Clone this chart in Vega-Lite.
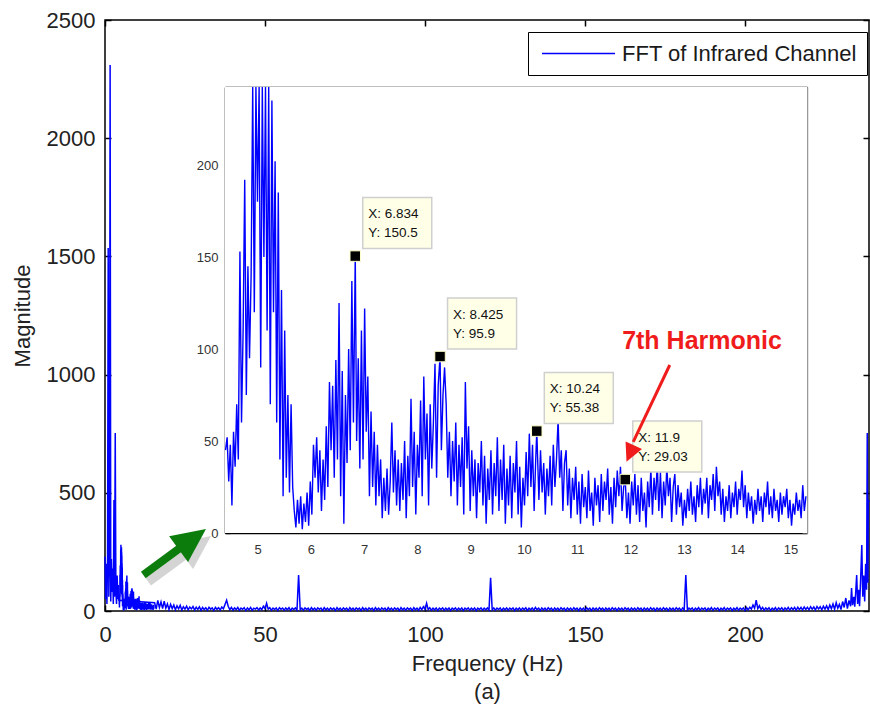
{
"$schema": "https://vega.github.io/schema/vega-lite/v6.json",
"width": 764, "height": 591,
"autosize": {"type": "none"},
"padding": {"left": 105, "top": 20, "right": 1, "bottom": 104},
"background": "white",
"config": {"font": "Liberation Sans", "view": {"stroke": "black", "strokeWidth": 1.5}, "axis": {"grid": false, "zindex": 1}},
"datasets": {
"main": [
{"f":0,"m":230},{"f":0.2,"m":50},{"f":0.4,"m":200},{"f":0.6,"m":30},{"f":0.8,"m":225},{"f":1.0,"m":1535},{"f":1.2,"m":60},{"f":1.4,"m":215},{"f":1.6,"m":2310},{"f":1.8,"m":40},{"f":2.0,"m":220},{"f":2.2,"m":80},{"f":2.4,"m":180},{"f":2.6,"m":30},{"f":2.8,"m":470},{"f":3.0,"m":60},{"f":3.2,"m":753},{"f":3.4,"m":90},{"f":3.6,"m":30},{"f":3.8,"m":150},{"f":4.0,"m":50},{"f":4.2,"m":110},{"f":4.35,"m":45},
{"f":15.5,"m":35},{"f":16,"m":8},{"f":16.5,"m":45},{"f":17,"m":15},{"f":17.5,"m":38},{"f":18,"m":10},{"f":18.5,"m":42},{"f":19,"m":12},{"f":19.5,"m":30},{"f":20,"m":6},
{"f":20.5,"m":28},{"f":21,"m":10},{"f":21.5,"m":25},{"f":22,"m":5},{"f":22.5,"m":22},{"f":23,"m":9},{"f":23.5,"m":24},{"f":24,"m":4},{"f":24.5,"m":18},{"f":25,"m":8},
{"f":25.5,"m":20},{"f":26,"m":5},{"f":26.5,"m":17},{"f":27,"m":9},{"f":27.5,"m":19},{"f":28,"m":4},{"f":28.5,"m":16},{"f":29,"m":7},{"f":29.5,"m":18},{"f":30,"m":3},
{"f":30.5,"m":15},{"f":31,"m":6},{"f":31.5,"m":14},{"f":32,"m":3},{"f":32.5,"m":16},{"f":33,"m":8},{"f":33.5,"m":13},{"f":34,"m":2},{"f":34.5,"m":15},{"f":35,"m":7},
{"f":35.5,"m":14},{"f":36,"m":4},{"f":36.5,"m":17},{"f":37,"m":9},{"f":37.5,"m":28},{"f":38,"m":46},{"f":38.5,"m":20},{"f":39,"m":6},{"f":39.5,"m":15},{"f":40,"m":4},
{"f":40.5,"m":13},{"f":41,"m":6},{"f":41.5,"m":15},{"f":42,"m":3},{"f":42.5,"m":12},{"f":43,"m":7},{"f":43.5,"m":14},{"f":44,"m":2},{"f":44.5,"m":13},{"f":45,"m":5},
{"f":45.5,"m":15},{"f":46,"m":3},{"f":46.5,"m":12},{"f":47,"m":8},{"f":47.5,"m":14},{"f":48,"m":4},{"f":48.5,"m":13},{"f":49,"m":6},{"f":49.5,"m":20},{"f":50,"m":10},
{"f":50.5,"m":33},{"f":51,"m":8},{"f":51.5,"m":14},{"f":52,"m":3},{"f":52.5,"m":12},{"f":53,"m":6},{"f":53.5,"m":13},{"f":54,"m":2},{"f":54.5,"m":14},{"f":55,"m":7},
{"f":55.5,"m":12},{"f":56,"m":3},{"f":56.5,"m":13},{"f":57,"m":5},{"f":57.5,"m":14},{"f":58,"m":2},{"f":58.5,"m":12},{"f":59,"m":6},{"f":59.5,"m":13},{"f":60,"m":4},
{"f":60.5,"m":152},{"f":61,"m":5},{"f":61.5,"m":12},{"f":62,"m":3},{"f":62.5,"m":13},{"f":63,"m":6},{"f":63.5,"m":12},{"f":64,"m":2},{"f":64.5,"m":14},{"f":65,"m":5},
{"f":65.5,"m":12},{"f":66,"m":3},{"f":66.5,"m":13},{"f":67,"m":7},{"f":67.5,"m":12},{"f":68,"m":2},{"f":68.5,"m":14},{"f":69,"m":5},{"f":69.5,"m":12},{"f":70,"m":3},
{"f":70.5,"m":13},{"f":71,"m":6},{"f":71.5,"m":12},{"f":72,"m":2},{"f":72.5,"m":14},{"f":73,"m":5},{"f":73.5,"m":12},{"f":74,"m":3},{"f":74.5,"m":13},{"f":75,"m":6},
{"f":75.5,"m":12},{"f":76,"m":2},{"f":76.5,"m":14},{"f":77,"m":5},{"f":77.5,"m":12},{"f":78,"m":3},{"f":78.5,"m":13},{"f":79,"m":6},{"f":79.5,"m":12},{"f":80,"m":2},
{"f":80.5,"m":14},{"f":81,"m":5},{"f":81.5,"m":12},{"f":82,"m":3},{"f":82.5,"m":13},{"f":83,"m":6},{"f":83.5,"m":12},{"f":84,"m":2},{"f":84.5,"m":14},{"f":85,"m":5},
{"f":85.5,"m":12},{"f":86,"m":3},{"f":86.5,"m":13},{"f":87,"m":6},{"f":87.5,"m":12},{"f":88,"m":2},{"f":88.5,"m":14},{"f":89,"m":5},{"f":89.5,"m":12},{"f":90,"m":3},
{"f":90.5,"m":13},{"f":91,"m":6},{"f":91.5,"m":12},{"f":92,"m":2},{"f":92.5,"m":14},{"f":93,"m":5},{"f":93.5,"m":12},{"f":94,"m":3},{"f":94.5,"m":13},{"f":95,"m":6},
{"f":95.5,"m":12},{"f":96,"m":2},{"f":96.5,"m":14},{"f":97,"m":5},{"f":97.5,"m":12},{"f":98,"m":3},{"f":98.5,"m":15},{"f":99,"m":6},{"f":99.5,"m":18},{"f":100,"m":8},
{"f":100.5,"m":33},{"f":101,"m":6},{"f":101.5,"m":14},{"f":102,"m":3},{"f":102.5,"m":12},{"f":103,"m":5},{"f":103.5,"m":13},{"f":104,"m":2},{"f":104.5,"m":12},{"f":105,"m":6},
{"f":105.5,"m":13},{"f":106,"m":3},{"f":106.5,"m":12},{"f":107,"m":5},{"f":107.5,"m":13},{"f":108,"m":2},{"f":108.5,"m":12},{"f":109,"m":6},{"f":109.5,"m":13},{"f":110,"m":3},
{"f":110.5,"m":12},{"f":111,"m":5},{"f":111.5,"m":13},{"f":112,"m":2},{"f":112.5,"m":12},{"f":113,"m":6},{"f":113.5,"m":13},{"f":114,"m":3},{"f":114.5,"m":12},{"f":115,"m":5},
{"f":115.5,"m":13},{"f":116,"m":2},{"f":116.5,"m":12},{"f":117,"m":6},{"f":117.5,"m":13},{"f":118,"m":3},{"f":118.5,"m":12},{"f":119,"m":5},{"f":119.5,"m":13},{"f":120,"m":4},
{"f":120.5,"m":140},{"f":121,"m":5},{"f":121.5,"m":13},{"f":122,"m":3},{"f":122.5,"m":12},{"f":123,"m":6},{"f":123.5,"m":13},{"f":124,"m":2},{"f":124.5,"m":12},{"f":125,"m":5},
{"f":125.5,"m":13},{"f":126,"m":3},{"f":126.5,"m":12},{"f":127,"m":6},{"f":127.5,"m":13},{"f":128,"m":2},{"f":128.5,"m":12},{"f":129,"m":5},{"f":129.5,"m":13},{"f":130,"m":3},
{"f":130.5,"m":12},{"f":131,"m":6},{"f":131.5,"m":14},{"f":132,"m":2},{"f":132.5,"m":12},{"f":133,"m":5},{"f":133.5,"m":13},{"f":134,"m":3},{"f":134.5,"m":15},{"f":135,"m":6},
{"f":135.5,"m":12},{"f":136,"m":2},{"f":136.5,"m":13},{"f":137,"m":5},{"f":137.5,"m":12},{"f":138,"m":3},{"f":138.5,"m":14},{"f":139,"m":6},{"f":139.5,"m":12},{"f":140,"m":2},
{"f":140.5,"m":13},{"f":141,"m":5},{"f":141.5,"m":12},{"f":142,"m":3},{"f":142.5,"m":14},{"f":143,"m":6},{"f":143.5,"m":12},{"f":144,"m":2},{"f":144.5,"m":13},{"f":145,"m":5},
{"f":145.5,"m":12},{"f":146,"m":3},{"f":146.5,"m":14},{"f":147,"m":6},{"f":147.5,"m":12},{"f":148,"m":2},{"f":148.5,"m":13},{"f":149,"m":5},{"f":149.5,"m":12},{"f":150,"m":3},
{"f":150.5,"m":14},{"f":151,"m":6},{"f":151.5,"m":12},{"f":152,"m":2},{"f":152.5,"m":13},{"f":153,"m":5},{"f":153.5,"m":12},{"f":154,"m":3},{"f":154.5,"m":14},{"f":155,"m":6},
{"f":155.5,"m":12},{"f":156,"m":2},{"f":156.5,"m":13},{"f":157,"m":5},{"f":157.5,"m":12},{"f":158,"m":3},{"f":158.5,"m":14},{"f":159,"m":6},{"f":159.5,"m":12},{"f":160,"m":2},
{"f":160.5,"m":13},{"f":161,"m":5},{"f":161.5,"m":12},{"f":162,"m":3},{"f":162.5,"m":14},{"f":163,"m":6},{"f":163.5,"m":12},{"f":164,"m":2},{"f":164.5,"m":13},{"f":165,"m":5},
{"f":165.5,"m":12},{"f":166,"m":3},{"f":166.5,"m":14},{"f":167,"m":6},{"f":167.5,"m":12},{"f":168,"m":2},{"f":168.5,"m":13},{"f":169,"m":5},{"f":169.5,"m":12},{"f":170,"m":3},
{"f":170.5,"m":14},{"f":171,"m":6},{"f":171.5,"m":12},{"f":172,"m":2},{"f":172.5,"m":13},{"f":173,"m":5},{"f":173.5,"m":12},{"f":174,"m":3},{"f":174.5,"m":14},{"f":175,"m":6},
{"f":175.5,"m":12},{"f":176,"m":2},{"f":176.5,"m":13},{"f":177,"m":5},{"f":177.5,"m":12},{"f":178,"m":3},{"f":178.5,"m":14},{"f":179,"m":6},{"f":179.5,"m":12},{"f":180,"m":2},
{"f":180.5,"m":13},{"f":181,"m":5},{"f":181.5,"m":152},{"f":182,"m":4},{"f":182.5,"m":12},{"f":183,"m":6},{"f":183.5,"m":13},{"f":184,"m":2},{"f":184.5,"m":12},{"f":185,"m":5},
{"f":185.5,"m":14},{"f":186,"m":3},{"f":186.5,"m":12},{"f":187,"m":6},{"f":187.5,"m":13},{"f":188,"m":2},{"f":188.5,"m":12},{"f":189,"m":5},{"f":189.5,"m":14},{"f":190,"m":3},
{"f":190.5,"m":12},{"f":191,"m":6},{"f":191.5,"m":13},{"f":192,"m":2},{"f":192.5,"m":12},{"f":193,"m":5},{"f":193.5,"m":14},{"f":194,"m":3},{"f":194.5,"m":12},{"f":195,"m":6},
{"f":195.5,"m":13},{"f":196,"m":2},{"f":196.5,"m":12},{"f":197,"m":5},{"f":197.5,"m":14},{"f":198,"m":3},{"f":198.5,"m":12},{"f":199,"m":6},{"f":199.5,"m":13},{"f":200,"m":2},
{"f":200.5,"m":14},{"f":201,"m":5},{"f":201.5,"m":16},{"f":202,"m":8},{"f":202.5,"m":25},{"f":203,"m":12},{"f":203.5,"m":46},{"f":204,"m":10},{"f":204.5,"m":22},{"f":205,"m":6},
{"f":205.5,"m":15},{"f":206,"m":3},{"f":206.5,"m":13},{"f":207,"m":6},{"f":207.5,"m":14},{"f":208,"m":2},{"f":208.5,"m":12},{"f":209,"m":5},{"f":209.5,"m":14},{"f":210,"m":3},
{"f":210.5,"m":13},{"f":211,"m":6},{"f":211.5,"m":14},{"f":212,"m":3},{"f":212.5,"m":13},{"f":213,"m":5},{"f":213.5,"m":15},{"f":214,"m":4},{"f":214.5,"m":14},{"f":215,"m":6},
{"f":215.5,"m":15},{"f":216,"m":3},{"f":216.5,"m":16},{"f":217,"m":6},{"f":217.5,"m":15},{"f":218,"m":4},{"f":218.5,"m":17},{"f":219,"m":7},{"f":219.5,"m":16},{"f":220,"m":5},
{"f":220.5,"m":18},{"f":221,"m":8},{"f":221.5,"m":17},{"f":222,"m":4},{"f":222.5,"m":19},{"f":223,"m":9},{"f":223.5,"m":18},{"f":224,"m":5},{"f":224.5,"m":20},{"f":225,"m":8},
{"f":225.5,"m":22},{"f":226,"m":6},{"f":226.5,"m":25},{"f":227,"m":10},{"f":227.5,"m":30},{"f":228,"m":8},{"f":228.5,"m":35},{"f":229,"m":12},{"f":229.5,"m":28},{"f":230,"m":6},
{"f":230.5,"m":40},{"f":231,"m":15},{"f":231.5,"m":55},{"f":232,"m":10},{"f":232.5,"m":45},{"f":233,"m":20},{"f":233.3,"m":97},{"f":233.6,"m":25},{"f":234,"m":60},{"f":234.3,"m":18},
{"f":234.6,"m":80},{"f":234.9,"m":152},{"f":235.2,"m":30},{"f":235.5,"m":90},{"f":235.8,"m":20},{"f":236.1,"m":120},{"f":236.5,"m":279},{"f":236.8,"m":60},{"f":237.1,"m":150},{"f":237.4,"m":40},
{"f":237.7,"m":200},{"f":238,"m":90},{"f":238.2,"m":753},{"f":238.4,"m":120},{"f":238.5,"m":470},{"f":238.75,"m":460}
],
"zoom": [
{"f":4.40,"m":45},{"f":4.43,"m":52},{"f":4.46,"m":28},{"f":4.49,"m":48},{"f":4.52,"m":15},{"f":4.55,"m":55},{"f":4.58,"m":36},{"f":4.61,"m":70},{"f":4.64,"m":40},{"f":4.67,"m":153},
{"f":4.70,"m":60},{"f":4.73,"m":110},{"f":4.76,"m":192},{"f":4.79,"m":75},{"f":4.82,"m":145},{"f":4.85,"m":95},{"f":4.88,"m":140},{"f":4.91,"m":260},{"f":4.94,"m":120},{"f":4.97,"m":280},
{"f":5.00,"m":180},{"f":5.03,"m":250},{"f":5.06,"m":90},{"f":5.09,"m":265},{"f":5.12,"m":150},{"f":5.15,"m":270},{"f":5.18,"m":110},{"f":5.21,"m":248},{"f":5.24,"m":70},{"f":5.27,"m":235},
{"f":5.30,"m":120},{"f":5.33,"m":202},{"f":5.36,"m":60},{"f":5.39,"m":185},{"f":5.42,"m":40},{"f":5.45,"m":132},{"f":5.48,"m":20},{"f":5.51,"m":110},{"f":5.54,"m":30},{"f":5.57,"m":75},
{"f":5.60,"m":22},{"f":5.63,"m":70},{"f":5.66,"m":25},{"f":5.69,"m":12},{"f":5.72,"m":3},{"f":5.75,"m":18},{"f":5.78,"m":5},{"f":5.81,"m":20},{"f":5.84,"m":2},{"f":5.87,"m":16},
{"f":5.90,"m":6},{"f":5.93,"m":22},{"f":5.96,"m":4},{"f":5.99,"m":28},{"f":6.02,"m":10},{"f":6.05,"m":48},{"f":6.08,"m":30},{"f":6.11,"m":52},{"f":6.14,"m":22},{"f":6.17,"m":45},
{"f":6.20,"m":12},{"f":6.23,"m":40},{"f":6.26,"m":18},{"f":6.29,"m":58},{"f":6.32,"m":25},{"f":6.35,"m":82},{"f":6.38,"m":45},{"f":6.41,"m":80},{"f":6.44,"m":30},{"f":6.47,"m":94},
{"f":6.50,"m":40},{"f":6.53,"m":125},{"f":6.56,"m":20},{"f":6.59,"m":88},{"f":6.62,"m":5},{"f":6.65,"m":75},{"f":6.68,"m":38},{"f":6.71,"m":100},{"f":6.74,"m":45},{"f":6.77,"m":137},
{"f":6.80,"m":60},{"f":6.834,"m":150.5},{"f":6.86,"m":50},{"f":6.89,"m":95},{"f":6.92,"m":35},{"f":6.95,"m":110},{"f":6.98,"m":40},{"f":7.01,"m":122},{"f":7.04,"m":55},{"f":7.07,"m":85},
{"f":7.10,"m":20},{"f":7.13,"m":66},{"f":7.16,"m":25},{"f":7.19,"m":55},{"f":7.22,"m":15},{"f":7.25,"m":48},{"f":7.28,"m":20},{"f":7.31,"m":40},{"f":7.34,"m":8},{"f":7.37,"m":30},
{"f":7.40,"m":12},{"f":7.43,"m":35},{"f":7.46,"m":10},{"f":7.49,"m":28},{"f":7.52,"m":60},{"f":7.55,"m":22},{"f":7.58,"m":45},{"f":7.61,"m":15},{"f":7.64,"m":40},{"f":7.67,"m":12},
{"f":7.70,"m":38},{"f":7.73,"m":18},{"f":7.76,"m":50},{"f":7.79,"m":8},{"f":7.82,"m":42},{"f":7.85,"m":20},{"f":7.88,"m":73},{"f":7.91,"m":25},{"f":7.94,"m":55},{"f":7.97,"m":10},
{"f":8.00,"m":48},{"f":8.03,"m":30},{"f":8.06,"m":72},{"f":8.09,"m":20},{"f":8.12,"m":85},{"f":8.15,"m":40},{"f":8.18,"m":65},{"f":8.21,"m":15},{"f":8.24,"m":70},{"f":8.27,"m":35},
{"f":8.30,"m":60},{"f":8.33,"m":92},{"f":8.36,"m":30},{"f":8.39,"m":80},{"f":8.425,"m":95.9},{"f":8.45,"m":45},{"f":8.48,"m":75},{"f":8.51,"m":90},{"f":8.54,"m":70},{"f":8.57,"m":30},
{"f":8.60,"m":55},{"f":8.63,"m":20},{"f":8.66,"m":50},{"f":8.69,"m":28},{"f":8.72,"m":60},{"f":8.75,"m":15},{"f":8.78,"m":48},{"f":8.81,"m":25},{"f":8.84,"m":52},{"f":8.87,"m":10},
{"f":8.90,"m":82},{"f":8.93,"m":35},{"f":8.96,"m":58},{"f":8.99,"m":12},{"f":9.02,"m":45},{"f":9.05,"m":20},{"f":9.08,"m":40},{"f":9.11,"m":8},{"f":9.14,"m":38},{"f":9.17,"m":22},
{"f":9.20,"m":50},{"f":9.23,"m":15},{"f":9.26,"m":42},{"f":9.29,"m":5},{"f":9.32,"m":35},{"f":9.35,"m":18},{"f":9.38,"m":45},{"f":9.41,"m":10},{"f":9.44,"m":38},{"f":9.47,"m":20},
{"f":9.50,"m":52},{"f":9.53,"m":12},{"f":9.56,"m":40},{"f":9.59,"m":18},{"f":9.62,"m":48},{"f":9.65,"m":5},{"f":9.68,"m":35},{"f":9.71,"m":15},{"f":9.74,"m":42},{"f":9.77,"m":8},
{"f":9.80,"m":38},{"f":9.83,"m":22},{"f":9.86,"m":50},{"f":9.89,"m":10},{"f":9.92,"m":36},{"f":9.95,"m":3},{"f":9.98,"m":30},{"f":10.01,"m":15},{"f":10.04,"m":44},{"f":10.07,"m":20},
{"f":10.10,"m":54},{"f":10.13,"m":25},{"f":10.16,"m":48},{"f":10.19,"m":12},{"f":10.22,"m":40},{"f":10.24,"m":55.38},{"f":10.28,"m":18},{"f":10.31,"m":45},{"f":10.34,"m":22},{"f":10.37,"m":38},
{"f":10.40,"m":10},{"f":10.43,"m":35},{"f":10.46,"m":20},{"f":10.49,"m":42},{"f":10.52,"m":15},{"f":10.55,"m":48},{"f":10.58,"m":25},{"f":10.61,"m":40},{"f":10.64,"m":62},{"f":10.67,"m":30},
{"f":10.70,"m":45},{"f":10.73,"m":12},{"f":10.76,"m":38},{"f":10.79,"m":45},{"f":10.82,"m":15},{"f":10.85,"m":35},{"f":10.88,"m":8},{"f":10.91,"m":30},{"f":10.94,"m":18},{"f":10.97,"m":36},
{"f":11.00,"m":10},{"f":11.03,"m":28},{"f":11.06,"m":5},{"f":11.09,"m":32},{"f":11.12,"m":14},{"f":11.15,"m":25},{"f":11.18,"m":8},{"f":11.21,"m":34},{"f":11.24,"m":12},{"f":11.27,"m":22},
{"f":11.30,"m":4},{"f":11.33,"m":30},{"f":11.36,"m":15},{"f":11.39,"m":26},{"f":11.42,"m":6},{"f":11.45,"m":32},{"f":11.48,"m":12},{"f":11.51,"m":28},{"f":11.54,"m":18},{"f":11.57,"m":35},
{"f":11.60,"m":10},{"f":11.63,"m":25},{"f":11.66,"m":5},{"f":11.69,"m":30},{"f":11.72,"m":14},{"f":11.75,"m":34},{"f":11.78,"m":20},{"f":11.81,"m":36},{"f":11.84,"m":12},{"f":11.87,"m":25},
{"f":11.90,"m":29.03},{"f":11.93,"m":8},{"f":11.96,"m":22},{"f":11.99,"m":5},{"f":12.02,"m":28},{"f":12.05,"m":15},{"f":12.08,"m":32},{"f":12.11,"m":10},{"f":12.14,"m":26},{"f":12.17,"m":6},
{"f":12.20,"m":30},{"f":12.23,"m":12},{"f":12.26,"m":22},{"f":12.29,"m":3},{"f":12.32,"m":28},{"f":12.35,"m":14},{"f":12.38,"m":35},{"f":12.41,"m":10},{"f":12.44,"m":30},{"f":12.47,"m":18},
{"f":12.50,"m":38},{"f":12.53,"m":12},{"f":12.56,"m":33},{"f":12.59,"m":8},{"f":12.62,"m":28},{"f":12.65,"m":15},{"f":12.68,"m":36},{"f":12.71,"m":20},{"f":12.74,"m":30},{"f":12.77,"m":6},
{"f":12.80,"m":25},{"f":12.83,"m":32},{"f":12.86,"m":10},{"f":12.89,"m":26},{"f":12.92,"m":14},{"f":12.95,"m":22},{"f":12.98,"m":4},{"f":13.01,"m":18},{"f":13.04,"m":8},{"f":13.07,"m":24},
{"f":13.10,"m":12},{"f":13.13,"m":28},{"f":13.16,"m":10},{"f":13.19,"m":20},{"f":13.22,"m":6},{"f":13.25,"m":26},{"f":13.28,"m":14},{"f":13.31,"m":30},{"f":13.34,"m":10},{"f":13.37,"m":24},
{"f":13.40,"m":16},{"f":13.43,"m":30},{"f":13.46,"m":8},{"f":13.49,"m":26},{"f":13.52,"m":18},{"f":13.55,"m":32},{"f":13.58,"m":12},{"f":13.61,"m":36},{"f":13.64,"m":20},{"f":13.67,"m":28},
{"f":13.70,"m":10},{"f":13.73,"m":24},{"f":13.76,"m":6},{"f":13.79,"m":20},{"f":13.82,"m":12},{"f":13.85,"m":26},{"f":13.88,"m":8},{"f":13.91,"m":22},{"f":13.94,"m":14},{"f":13.97,"m":28},
{"f":14.00,"m":10},{"f":14.03,"m":24},{"f":14.06,"m":18},{"f":14.09,"m":34},{"f":14.12,"m":14},{"f":14.15,"m":26},{"f":14.18,"m":8},{"f":14.21,"m":22},{"f":14.24,"m":12},{"f":14.27,"m":20},
{"f":14.30,"m":5},{"f":14.33,"m":18},{"f":14.36,"m":10},{"f":14.39,"m":24},{"f":14.42,"m":12},{"f":14.45,"m":20},{"f":14.48,"m":6},{"f":14.51,"m":22},{"f":14.54,"m":14},{"f":14.57,"m":28},
{"f":14.60,"m":10},{"f":14.63,"m":20},{"f":14.66,"m":8},{"f":14.69,"m":24},{"f":14.72,"m":12},{"f":14.75,"m":18},{"f":14.78,"m":6},{"f":14.81,"m":22},{"f":14.84,"m":10},{"f":14.87,"m":20},
{"f":14.90,"m":14},{"f":14.93,"m":24},{"f":14.96,"m":8},{"f":14.99,"m":18},{"f":15.02,"m":4},{"f":15.05,"m":16},{"f":15.08,"m":10},{"f":15.11,"m":22},{"f":15.14,"m":12},{"f":15.17,"m":18},
{"f":15.20,"m":8},{"f":15.23,"m":26},{"f":15.26,"m":12},{"f":15.29,"m":20}
],
"tips": [
{"f":6.834,"m":150.5,"lx":"X: 6.834","ly":"Y: 150.5"},
{"f":8.425,"m":95.9,"lx":"X: 8.425","ly":"Y: 95.9"},
{"f":10.24,"m":55.38,"lx":"X: 10.24","ly":"Y: 55.38"},
{"f":11.9,"m":29.03,"lx":"X: 11.9","ly":"Y: 29.03"}
],
"insetFrame": [{"f0":4.39,"f1":15.31,"m0":0,"m1":242.4}],
"harmonic": [{"f":13.34,"m":104.3,"label":"7th Harmonic"}],
"redArrow": [{"f":12.735,"m":91.3,"fs":12.05,"ms":49.5,"ft":11.923,"mt":38.75}],
"greenArrow": [{"f":11.97,"m":152.3,"fs":24.5,"ms":277.1,"ft":31.56,"mt":346.9}]
},
"layer": [
{
"layer": [
{"data": {"name": "main"},
 "mark": {"type": "line", "strokeWidth": 1.5},
 "encoding": {
  "x": {"field": "f", "type": "quantitative", "scale": {"domain": [0, 238.75], "nice": false, "zero": false},
        "axis": {"orient": "bottom", "values": [0,50,100,150,200], "format": "d", "domain": false, "tickSize": -6, "tickColor": "black", "tickWidth": 1.5,
                 "labelFontSize": 22, "labelColor": "#222", "labelPadding": 19, "labelFlush": false, "labelOverlap": false,
                 "title": ["Frequency (Hz)", "(a)"], "titleFontSize": 22, "titleFontWeight": "normal", "titleColor": "#222", "titlePadding": 8, "titleLineHeight": 28}},
  "y": {"field": "m", "type": "quantitative", "scale": {"domain": [0, 2500], "nice": false},
        "axis": {"orient": "left", "values": [0,500,1000,1500,2000,2500], "format": "d", "domain": false, "tickSize": -6, "tickColor": "black", "tickWidth": 1.5,
                 "labelFontSize": 22, "labelColor": "#222", "labelPadding": 16, "labelOverlap": false,
                 "title": "Magnitude", "titleFontSize": 22, "titleFontWeight": "normal", "titleColor": "#222", "titlePadding": 12}},
  "color": {"datum": "FFT of Infrared Channel", "type": "nominal", "scale": {"range": ["#0000ff"]},
            "legend": {"orient": "none", "legendX": 423, "legendY": 12, "title": null, "symbolType": "stroke", "symbolSize": 5329, "symbolStrokeWidth": 1.5,
                       "symbolOffset": 3, "labelFontSize": 22, "labelColor": "#1a1a1a", "labelLimit": 400, "labelOffset": 6, "padding": 10,
                       "strokeColor": "black", "fillColor": "white", "clipHeight": 23}}
 }},
{"data": {"name": "zoom"},
 "mark": {"type": "line", "strokeWidth": 1.5, "color": "#0000ff"},
 "encoding": {"x": {"field": "f", "type": "quantitative", "axis": null}, "y": {"field": "m", "type": "quantitative", "axis": null}}},
{"data": {"name": "greenArrow"},
 "mark": {"type": "rule", "strokeWidth": 9, "color": "#555", "opacity": 0.25, "strokeCap": "butt", "xOffset": 5, "x2Offset": 5, "yOffset": 7, "y2Offset": 7},
 "encoding": {"x": {"field": "f", "type": "quantitative", "axis": null}, "y": {"field": "m", "type": "quantitative", "axis": null},
              "x2": {"field": "fs"}, "y2": {"field": "ms"}}},
{"data": {"name": "greenArrow"},
 "mark": {"type": "point", "shape": "M0,0L-0.94,2L0.94,2Z", "size": 1156, "angle": 53.7, "filled": true, "color": "#555", "opacity": 0.25, "strokeWidth": 0, "xOffset": 5, "yOffset": 7},
 "encoding": {"x": {"field": "ft", "type": "quantitative", "axis": null}, "y": {"field": "mt", "type": "quantitative", "axis": null}}},
{"data": {"name": "greenArrow"},
 "mark": {"type": "rule", "strokeWidth": 8, "color": "#0c7c0c", "strokeCap": "butt"},
 "encoding": {"x": {"field": "f", "type": "quantitative",
                    "axis": {"orient": "top", "values": [0,50,100,150,200], "labels": false, "domain": false, "tickSize": -6, "tickColor": "black", "tickWidth": 1.5, "title": null}},
              "y": {"field": "m", "type": "quantitative",
                    "axis": {"orient": "right", "values": [0,500,1000,1500,2000,2500], "labels": false, "domain": false, "tickSize": -6, "tickColor": "black", "tickWidth": 1.5, "title": null}},
              "x2": {"field": "fs"}, "y2": {"field": "ms"}}},
{"data": {"name": "greenArrow"},
 "mark": {"type": "point", "shape": "M0,0L-0.94,2L0.94,2Z", "size": 1156, "angle": 53.7, "filled": true, "color": "#0c7c0c", "opacity": 1, "strokeWidth": 0},
 "encoding": {"x": {"field": "ft", "type": "quantitative", "axis": null}, "y": {"field": "mt", "type": "quantitative", "axis": null}}}
],
"resolve": {"axis": {"x": "independent", "y": "independent"}}
},
{
"layer": [
{"data": {"name": "insetFrame"},
 "mark": {"type": "rect", "fill": "white", "stroke": null},
 "encoding": {
  "x": {"field": "f0", "type": "quantitative", "scale": {"domain": [4.39, 15.31], "range": [120, 702], "nice": false, "zero": false},
        "axis": {"orient": "bottom", "offset": -78, "values": [5,6,7,8,9,10,11,12,13,14,15], "domain": true, "domainColor": "black", "domainWidth": 1.5,
                 "tickSize": -5, "tickColor": "black", "tickWidth": 1.3, "labelFontSize": 13, "labelColor": "#333", "labelPadding": 15, "labelFlush": false, "labelOverlap": false, "title": null}},
  "x2": {"field": "f1"},
  "y": {"field": "m0", "type": "quantitative", "scale": {"domain": [0, 242.4], "range": [513, 67], "nice": false, "clamp": true},
        "axis": {"orient": "left", "offset": -120, "values": [0,50,100,150,200], "domain": true, "domainColor": "black", "domainWidth": 1.5,
                 "tickSize": -5, "tickColor": "black", "tickWidth": 1.3, "labelFontSize": 13, "labelColor": "#333", "labelPadding": 12, "labelOverlap": false, "title": null}},
  "y2": {"field": "m1"}
 }},
{"data": {"name": "zoom"},
 "mark": {"type": "line", "strokeWidth": 1.4, "color": "#0000ff"},
 "encoding": {"x": {"field": "f", "type": "quantitative", "axis": null}, "y": {"field": "m", "type": "quantitative", "axis": null}}},
{"data": {"name": "tips"},
 "mark": {"type": "rect", "width": 69, "height": 51, "xOffset": 42, "yOffset": -33, "fill": "#ffffe8", "stroke": "#cfcfcf", "strokeWidth": 1.5},
 "encoding": {"x": {"field": "f", "type": "quantitative", "axis": null}, "y": {"field": "m", "type": "quantitative", "axis": null}}},
{"data": {"name": "tips"},
 "mark": {"type": "point", "shape": "square", "size": 110, "filled": true, "color": "black", "opacity": 1, "stroke": "#ffffcc", "strokeWidth": 1},
 "encoding": {"x": {"field": "f", "type": "quantitative", "axis": null}, "y": {"field": "m", "type": "quantitative", "axis": null}}},
{"data": {"name": "tips"},
 "mark": {"type": "text", "align": "left", "baseline": "middle", "dx": 13, "dy": -42, "fontSize": 13.5, "color": "#111"},
 "encoding": {"x": {"field": "f", "type": "quantitative", "axis": null}, "y": {"field": "m", "type": "quantitative", "axis": null}, "text": {"field": "lx"}}},
{"data": {"name": "tips"},
 "mark": {"type": "text", "align": "left", "baseline": "middle", "dx": 13, "dy": -23, "fontSize": 13.5, "color": "#111"},
 "encoding": {"x": {"field": "f", "type": "quantitative", "axis": null}, "y": {"field": "m", "type": "quantitative", "axis": null}, "text": {"field": "ly"}}},
{"data": {"name": "redArrow"},
 "mark": {"type": "rule", "strokeWidth": 3, "color": "#f01c1c", "strokeCap": "butt"},
 "encoding": {"x": {"field": "f", "type": "quantitative",
                    "axis": {"orient": "top", "offset": -67, "values": [5,6,7,8,9,10,11,12,13,14,15], "labels": false, "domain": true, "domainColor": "black", "domainWidth": 1.5, "tickSize": -5, "tickColor": "black", "tickWidth": 1.3, "title": null}},
              "y": {"field": "m", "type": "quantitative",
                    "axis": {"orient": "right", "offset": -62, "values": [0,50,100,150,200], "labels": false, "domain": true, "domainColor": "#999", "domainWidth": 1.5, "tickSize": -5, "tickColor": "#555", "tickWidth": 1.3, "title": null}},
              "x2": {"field": "fs"}, "y2": {"field": "ms"}}},
{"data": {"name": "redArrow"},
 "mark": {"type": "point", "shape": "M0,0L-0.6,-1.2L0.6,-1.2Z", "size": 900, "angle": 24, "filled": true, "color": "#f01c1c", "opacity": 1, "strokeWidth": 0},
 "encoding": {"x": {"field": "ft", "type": "quantitative", "axis": null}, "y": {"field": "mt", "type": "quantitative", "axis": null}}},
{"data": {"name": "harmonic"},
 "mark": {"type": "text", "align": "center", "baseline": "middle", "fontSize": 25, "fontWeight": "bold", "color": "#f01c1c"},
 "encoding": {"x": {"field": "f", "type": "quantitative", "axis": null}, "y": {"field": "m", "type": "quantitative", "axis": null}, "text": {"field": "label"}}}
],
"resolve": {"axis": {"x": "independent", "y": "independent"}}
}
],
"resolve": {"scale": {"x": "independent", "y": "independent"}}
}
